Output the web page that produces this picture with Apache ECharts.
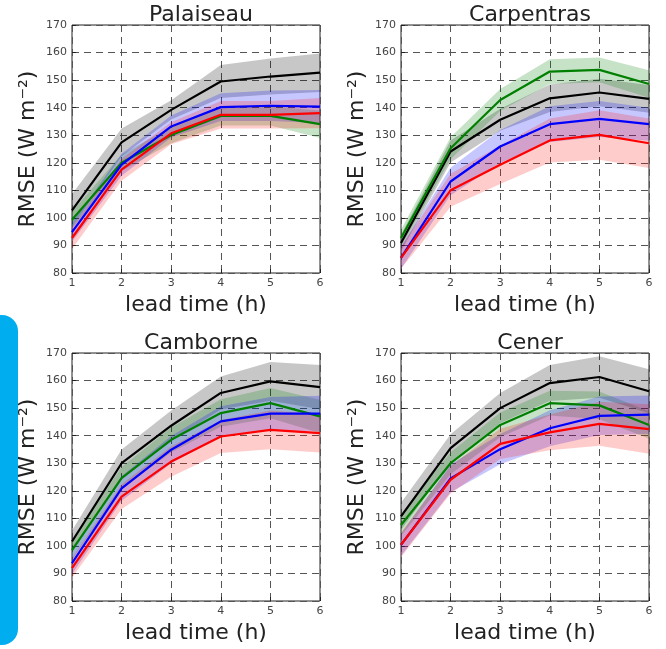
<!DOCTYPE html>
<html>
<head>
<meta charset="utf-8">
<script src="https://cdn.jsdelivr.net/npm/echarts@6/dist/echarts.min.js"></script>
<style>html,body{margin:0;padding:0;background:#fff}#c{width:666px;height:649px}</style>
</head>
<body>
<div id="c"></div>
<script>
// ---- data ----
const leadTimes = ['1','2','3','4','5','6'];
const yTicks = [80, 170, 10]; // min, max, step
const stations = ['Palaiseau', 'Carpentras', 'Camborne', 'Cener'];

// means (RMSE, W m-2), order: black, green, blue, red
const palBlack = [102.7, 127.4, 139.2, 149.5, 151.3, 152.7];
const palGreen = [99.3, 120.0, 130.1, 137.0, 137.0, 134.0];
const palBlue  = [94.8, 119.3, 133.2, 140.2, 140.7, 140.4];
const palRed   = [92.7, 117.5, 130.7, 137.4, 137.4, 138.0];
const palBlackSpread = [6, 5, 3.5, 6, 6.5, 7];
const palGreenSpread = [3, 3, 3, 3.5, 3.5, 5];
const palBlueSpread  = [3.5, 4, 4, 5, 5.5, 6];
const palRedSpread   = [4, 4, 4, 5, 5, 5.5];

const carBlack = [90.9, 124.1, 135.6, 143.4, 145.5, 143.2];
const carGreen = [92.7, 125.3, 142.8, 153.1, 153.7, 148.6];
const carBlue  = [85.5, 113.2, 125.9, 134.0, 135.9, 134.0];
const carRed   = [85.5, 110.0, 119.3, 128.1, 130.1, 127.1];
const carBlackSpread = [3, 4, 4, 5, 5, 5];
const carGreenSpread = [3, 4, 4, 4.5, 4.5, 5];
const carBlueSpread  = [4, 5, 6, 6.5, 6.5, 6];
const carRedSpread   = [4, 6, 7, 8, 9, 9];

const camBlack = [101.6, 130.0, 143.6, 155.5, 159.7, 157.6];
const camGreen = [98.5, 124.6, 138.5, 148.2, 151.8, 147.0];
const camBlue  = [93.7, 120.9, 134.9, 145.2, 148.0, 148.0];
const camRed   = [91.9, 117.9, 130.6, 139.7, 142.1, 140.9];
const camBlackSpread = [4, 5, 5.5, 6, 7, 8];
const camGreenSpread = [3.5, 4, 4.5, 5, 5.5, 6];
const camBlueSpread  = [4, 4.5, 5, 5.5, 6, 6.5];
const camRedSpread   = [3.5, 4.5, 5.5, 6, 7, 7];

const cenBlack = [110.7, 135.5, 150.0, 159.1, 161.3, 156.1];
const cenGreen = [107.6, 130.0, 143.9, 151.8, 151.0, 143.9];
const cenBlue  = [100.4, 124.5, 135.1, 142.7, 147.2, 147.6];
const cenRed   = [100.4, 124.0, 137.0, 141.2, 144.3, 142.4];
const cenBlackSpread = [5, 5, 5.5, 6.5, 7.5, 8];
const cenGreenSpread = [4, 4, 4.5, 4.5, 5, 5];
const cenBlueSpread  = [4, 5, 5.5, 6.5, 7, 7];
const cenRedSpread   = [4.5, 5, 5.5, 6.5, 8, 9];

const panels = [
  [[palBlack, palBlackSpread], [palGreen, palGreenSpread], [palBlue, palBlueSpread], [palRed, palRedSpread]],
  [[carBlack, carBlackSpread], [carGreen, carGreenSpread], [carBlue, carBlueSpread], [carRed, carRedSpread]],
  [[camBlack, camBlackSpread], [camGreen, camGreenSpread], [camBlue, camBlueSpread], [camRed, camRedSpread]],
  [[cenBlack, cenBlackSpread], [cenGreen, cenGreenSpread], [cenBlue, cenBlueSpread], [cenRed, cenRedSpread]]
];
const lineColors = ['#000000', '#007f00', '#0000ff', '#ff0000'];
const bandColors = ['rgba(0,0,0,0.22)', 'rgba(0,128,0,0.22)', 'rgba(0,0,255,0.22)', 'rgba(255,0,0,0.2)'];

// ---- layout ----
const gridPos = [[72, 25], [401, 25], [72, 353], [401, 353]];
const GW = 248, GH = 248;
const font = 'DejaVu Sans';

const grids = [], xAxes = [], yAxes = [], titles = [], series = [];
gridPos.forEach((p, i) => {
  grids.push({left: p[0], top: p[1], width: GW, height: GH, show: true, borderColor: '#222', borderWidth: 1, backgroundColor: 'transparent'});
  titles.push({text: stations[i], left: p[0] + GW / 2, top: p[1] - 26, textAlign: 'center',
    textStyle: {fontFamily: font, fontSize: 22, fontWeight: 'normal', color: '#222'}});
  xAxes.push({type: 'category', gridIndex: i, data: leadTimes, boundaryGap: false,
    name: 'lead time (h)', nameLocation: 'middle', nameGap: 21,
    nameTextStyle: {fontFamily: font, fontSize: 22, color: '#222'},
    axisLine: {show: false}, axisTick: {show: true, inside: true, length: 4, lineStyle: {color: '#222'}},
    axisLabel: {fontFamily: font, fontSize: 11, color: '#444', margin: 5},
    splitLine: {show: true, lineStyle: {type: [7, 5], color: '#555', width: 1}}});
  yAxes.push({type: 'value', gridIndex: i, min: yTicks[0], max: yTicks[1], interval: yTicks[2],
    name: 'RMSE (W m⁻²)', nameLocation: 'middle', nameGap: 33, nameRotate: 90,
    nameTextStyle: {fontFamily: font, fontSize: 22, color: '#222'},
    axisLine: {show: false}, axisTick: {show: true, inside: true, length: 4, lineStyle: {color: '#222'}},
    axisLabel: {fontFamily: font, fontSize: 11, color: '#444', margin: 5},
    splitLine: {show: true, lineStyle: {type: [7, 5], color: '#555', width: 1}}});

  const sets = panels[i];
  sets.forEach((s, k) => {
    const mean = s[0], spr = s[1];
    const lower = mean.map((v, j) => v - spr[j]);
    const width = spr.map(v => 2 * v);
    const st = 'band' + i + '_' + k;
    series.push({type: 'line', xAxisIndex: i, yAxisIndex: i, stack: st, data: lower,
      symbol: 'none', lineStyle: {opacity: 0}, silent: true, z: 1});
    series.push({type: 'line', xAxisIndex: i, yAxisIndex: i, stack: st, data: width,
      symbol: 'none', lineStyle: {opacity: 0}, areaStyle: {color: bandColors[k], opacity: 1}, silent: true, z: 1});
  });
  sets.forEach((s, k) => {
    series.push({type: 'line', xAxisIndex: i, yAxisIndex: i, data: s[0], symbol: 'none',
      lineStyle: {color: lineColors[k], width: 2.2}, z: 3});
  });
});

const chart = echarts.init(document.getElementById('c'), null, {renderer: 'canvas'});
chart.setOption({
  animation: false,
  title: titles,
  grid: grids,
  xAxis: xAxes,
  yAxis: yAxes,
  series: series,
  graphic: [{type: 'rect', shape: {x: -20, y: 315, width: 38, height: 330, r: 16},
    style: {fill: '#00aeef'}, z: 0}]
});
</script>
</body>
</html>
